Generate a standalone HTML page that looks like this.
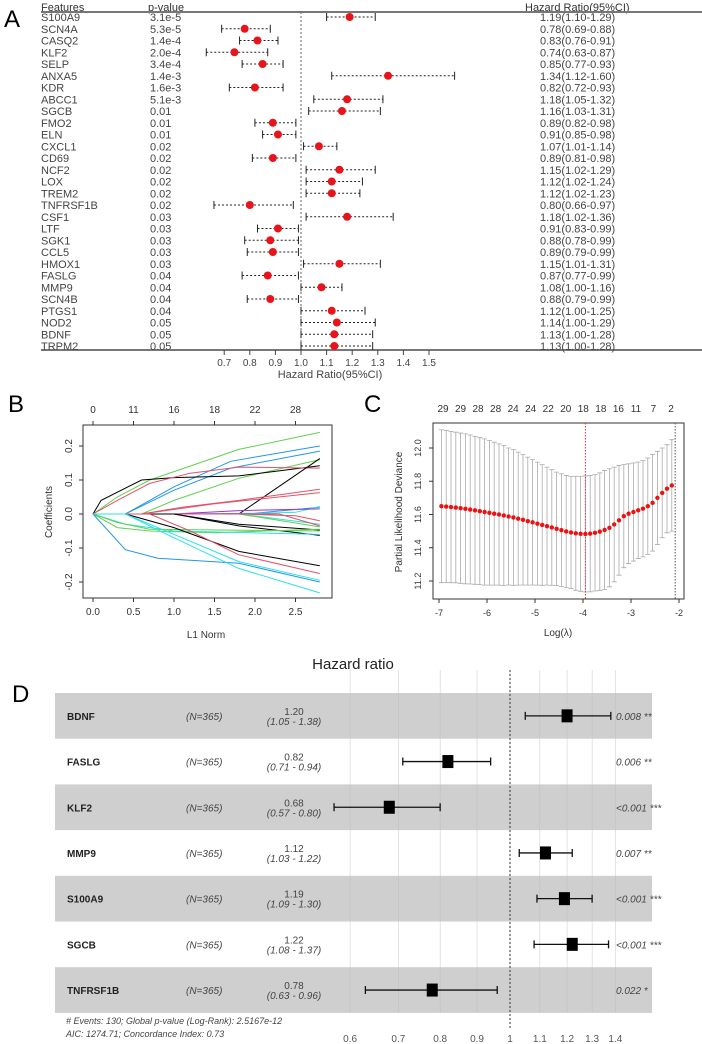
<!DOCTYPE html>
<html><head><meta charset="utf-8">
<style>
html,body{margin:0;padding:0;background:#fff;}
svg{display:block;font-family:"Liberation Sans",Arial,sans-serif;}
</style></head>
<body>
<svg id="fig" width="702" height="1044" viewBox="0 0 702 1044" xmlns="http://www.w3.org/2000/svg">
<g id="pA"></g>
<g id="pB"></g>
<g id="pC"></g>
<g id="pD"></g>
</svg>
<script>
// ---------- Panel A data ----------
const aGenes=["S100A9","SCN4A","CASQ2","KLF2","SELP","ANXA5","KDR","ABCC1","SGCB","FMO2","ELN","CXCL1","CD69","NCF2","LOX","TREM2","TNFRSF1B","CSF1","LTF","SGK1","CCL5","HMOX1","FASLG","MMP9","SCN4B","PTGS1","NOD2","BDNF","TRPM2"];
const aPvals=["3.1e-5","5.3e-5","1.4e-4","2.0e-4","3.4e-4","1.4e-3","1.6e-3","5.1e-3","0.01","0.01","0.01","0.02","0.02","0.02","0.02","0.02","0.02","0.03","0.03","0.03","0.03","0.03","0.04","0.04","0.04","0.04","0.05","0.05","0.05"];
const aHR=[1.19,0.78,0.83,0.74,0.85,1.34,0.82,1.18,1.16,0.89,0.91,1.07,0.89,1.15,1.12,1.12,0.80,1.18,0.91,0.88,0.89,1.15,0.87,1.08,0.88,1.12,1.14,1.13,1.13];
const aLo=[1.10,0.69,0.76,0.63,0.77,1.12,0.72,1.05,1.03,0.82,0.85,1.01,0.81,1.02,1.02,1.02,0.66,1.02,0.83,0.78,0.79,1.01,0.77,1.00,0.79,1.00,1.00,1.00,1.00];
const aHi=[1.29,0.88,0.91,0.87,0.93,1.60,0.93,1.32,1.31,0.98,0.98,1.14,0.98,1.29,1.24,1.23,0.97,1.36,0.99,0.99,0.99,1.31,0.99,1.16,0.99,1.25,1.29,1.28,1.28];
const aTicks=[0.7,0.8,0.9,1.0,1.1,1.2,1.3,1.4,1.5];
// ---------- Panel B data ----------
const bTopLabels=["0","11","16","18","22","28"];
const bXTicks=[0,0.5,1,1.5,2,2.5];
const bYTicks=[-0.2,-0.1,0,0.1,0.2];
const bColors=["#61D04F","#2297E6","#2297E6","#61D04F","#000000","#DF536B","#000000","#DF536B","#DF536B","#2297E6","#28E2E5","#9933CC","#DF536B","#28E2E5","#61D04F","#DF536B","#000000","#000000","#61D04F","#28E2E5","#61D04F","#000000","#DF536B","#2297E6","#28E2E5","#28E2E5"];
const bPathX=[
[0,0.3,0.7,1.8,2.8],[0,0.4,1.0,1.7,2.8],[0,0.4,1.0,1.7,2.8],[0,0.6,1.0,1.8,2.8],[0,0.1,0.6,1.0,1.8,2.8],[0,0.3,0.7,1.2,1.8,2.8],[0,1.8,2.8],[0,0.6,1.1,1.8,2.8],[0,0.6,1.5,2.8],[0,1.0,2.0,2.8],[0,1.8,2.5,2.8],[0,1.0,1.8,2.8],[0,1.8,2.5,2.8],[0,1.8,2.8],[0,1.8,2.8],[0,2.3,2.8],[0,1.0,1.8,2.8],[0,1.0,1.8,2.8],[0,0.3,0.7,1.5,2.8],[0,0.4,1.0,2.8],[0,0.3,0.7,2.8],[0,0.4,1.0,1.8,2.8],[0,0.7,1.2,1.8,2.8],[0,0.4,0.8,1.8,2.8],[0,0.4,1.0,1.8,2.8],[0,0.4,1.0,1.8,2.8]];
const bPathY=[
[0,0.05,0.1,0.19,0.24],[0,0,0.08,0.155,0.2],[0,0,0.07,0.135,0.185],[0,0,0.04,0.105,0.16],[0,0.04,0.1,0.107,0.112,0.142],[0,0.04,0.09,0.12,0.138,0.135],[0,0,0.163],[0,0,0.02,0.04,0.073],[0,0,0.03,0.063],[0,0,0.002,0.02],[0,0,0.005,0.022],[0,0,0.01,0.015],[0,0,-0.005,-0.02],[0,0,-0.03],[0,0,-0.038],[0,0,-0.035],[0,0,-0.035,-0.063],[0,0,-0.03,-0.047],[0,-0.04,-0.05,-0.055,-0.045],[0,-0.03,-0.05,-0.06],[0,-0.025,-0.045,-0.05],[0,0,-0.04,-0.11,-0.152],[0,0,-0.05,-0.12,-0.175],[0,-0.105,-0.13,-0.145,-0.2],[0,0,-0.06,-0.14,-0.195],[0,0,-0.07,-0.16,-0.232]];
// ---------- Panel C data ----------
const cTopLabels=["29","29","28","28","24","24","22","20","18","18","16","11","7","2"];
const cXTicks=[-7,-6,-5,-4,-3,-2];
const cYTicks=[11.2,11.4,11.6,11.8,12.0];
const cLogLambda=[-6.95,-6.85,-6.75,-6.65,-6.55,-6.45,-6.35,-6.25,-6.15,-6.05,-5.95,-5.85,-5.75,-5.65,-5.55,-5.45,-5.35,-5.25,-5.15,-5.05,-4.95,-4.85,-4.75,-4.65,-4.55,-4.45,-4.35,-4.25,-4.15,-4.05,-3.95,-3.85,-3.75,-3.65,-3.55,-3.45,-3.35,-3.25,-3.15,-3.05,-2.95,-2.85,-2.75,-2.65,-2.55,-2.45,-2.35,-2.25,-2.15];
const cMean=[11.65,11.648,11.645,11.642,11.638,11.634,11.63,11.625,11.62,11.615,11.61,11.605,11.60,11.594,11.588,11.582,11.575,11.568,11.56,11.553,11.545,11.537,11.53,11.522,11.514,11.506,11.498,11.492,11.487,11.484,11.483,11.485,11.49,11.497,11.507,11.52,11.54,11.565,11.59,11.605,11.615,11.625,11.635,11.65,11.67,11.70,11.73,11.755,11.775];
const cUpper=[12.11,12.105,12.10,12.095,12.09,12.085,12.078,12.07,12.062,12.055,12.045,12.035,12.025,12.015,12.00,11.99,11.975,11.96,11.945,11.93,11.915,11.90,11.885,11.87,11.855,11.845,11.835,11.83,11.83,11.83,11.832,11.835,11.84,11.85,11.865,11.875,11.885,11.895,11.90,11.905,11.91,11.915,11.925,11.94,11.96,11.98,12.0,12.02,12.05];
const cLambdaMin=-3.95;
const cLambda1se=-2.08;
// ---------- Panel D data ----------
const dGenes=["BDNF","FASLG","KLF2","MMP9","S100A9","SGCB","TNFRSF1B"];
const dHR=[1.20,0.82,0.68,1.12,1.19,1.22,0.78];
const dLo=[1.05,0.71,0.57,1.03,1.09,1.08,0.63];
const dHi=[1.38,0.94,0.80,1.22,1.30,1.37,0.96];
const dP=["0.008 **","0.006 **","<0.001 ***","0.007 **","<0.001 ***","<0.001 ***","0.022 *"];
const dTicks=[0.6,0.7,0.8,0.9,1,1.1,1.2,1.3,1.4];

const NS="http://www.w3.org/2000/svg";
function mk(parent,tag,attrs,text){const e=document.createElementNS(NS,tag);for(const k in attrs)e.setAttribute(k,attrs[k]);if(text!==undefined)e.textContent=text;parent.appendChild(e);return e;}

// ===== Panel A =====
(function(){
const g=document.getElementById('pA');
const xA=v=>301+(v-1)*256;
const rowY=i=>17+i*11.75;
let t=mk(g,'text',{x:4,y:27,'font-size':24,fill:'#000'},'A');


[['Features',41],['p-value',148]].forEach(([s,x])=>{const h=mk(g,'text',{x:x,y:11,'font-size':11,fill:'#333'},s);

});
let hh=mk(g,'text',{x:525,y:11,'font-size':11,fill:'#333'},'Hazard Ratio(95%CI)');


let l1=mk(g,'line',{x1:41,x2:702,y1:12,y2:12,stroke:'#777','stroke-width':2});


let l2=mk(g,'line',{x1:41,x2:702,y1:350,y2:350,stroke:'#777','stroke-width':2});


let rl=mk(g,'line',{x1:xA(1),x2:xA(1),y1:12,y2:350,stroke:'#666','stroke-dasharray':'2,2'});


aGenes.forEach((name,i)=>{
 const y=rowY(i);
 const a=mk(g,'text',{x:41,y:y+4,'font-size':11,fill:'#444'},name);
 
 
 const b=mk(g,'text',{x:150,y:y+4,'font-size':11,fill:'#444'},aPvals[i]);
 
 
 const c=mk(g,'text',{x:540,y:y+4,'font-size':11,fill:'#444'},aHR[i].toFixed(2)+'('+aLo[i].toFixed(2)+'-'+aHi[i].toFixed(2)+')');
 
 
 const ci=mk(g,'line',{x1:xA(aLo[i]),x2:xA(aHi[i]),y1:y,y2:y,stroke:'#222','stroke-dasharray':'2,2'});
 
 
 [aLo[i],aHi[i]].forEach(v=>{const k=mk(g,'line',{x1:xA(v),x2:xA(v),y1:y-4,y2:y+4,stroke:'#222'});
 
 });
 const p=mk(g,'circle',{cx:xA(aHR[i]),cy:y,r:4,fill:'#e8141c'});
 
 
});
aTicks.forEach(v=>{
 const tm=mk(g,'line',{x1:xA(v),x2:xA(v),y1:350,y2:355,stroke:'#444'});
 
 
 const tk=mk(g,'text',{x:xA(v),y:366,'font-size':10,fill:'#444','text-anchor':'middle'},v.toFixed(1));
 
 });
let ti=mk(g,'text',{x:330,y:378,'font-size':11,fill:'#444','text-anchor':'middle'},'Hazard Ratio(95%CI)');


})();

// ===== Panel B =====
(function(){
const g=document.getElementById('pB');
const L=83,R=332,T=425,B=598;
const xB=v=>93+v*81, yB=v=>514-v*340;
let t=mk(g,'text',{x:8,y:412,'font-size':24,fill:'#000'},'B');


let box=mk(g,'rect',{x:L,y:T,width:R-L,height:B-T,fill:'none',stroke:'#333'});


bPathX.forEach((xs,i)=>{
 const d=xs.map((x,j)=>(j?'L':'M')+xB(x).toFixed(1)+','+yB(bPathY[i][j]).toFixed(1)).join(' ');
 const p=mk(g,'path',{d:d,fill:'none',stroke:bColors[i],'stroke-width':1});
 
 
});
bXTicks.forEach((v,i)=>{
 mk(g,'line',{x1:xB(v),x2:xB(v),y1:B,y2:B+4,stroke:'#333'});
 const a=mk(g,'text',{x:xB(v),y:B+17,'font-size':10,fill:'#333','text-anchor':'middle'},v.toFixed(1));
 
 
 mk(g,'line',{x1:xB(v),x2:xB(v),y1:T,y2:T-4,stroke:'#333'});
 const b=mk(g,'text',{x:xB(v),y:413,'font-size':10,fill:'#333','text-anchor':'middle'},bTopLabels[i]);
 
 
});
bYTicks.forEach(v=>{
 mk(g,'line',{x1:L,x2:L-4,y1:yB(v),y2:yB(v),stroke:'#333'});
 const a=mk(g,'text',{x:72,y:yB(v),'font-size':10,fill:'#333','text-anchor':'middle',transform:`rotate(-90 72 ${yB(v)})`},v.toFixed(1));
 
 
});
let xt=mk(g,'text',{x:206,y:638,'font-size':10,fill:'#333','text-anchor':'middle'},'L1 Norm');


let yt=mk(g,'text',{x:52,y:512,'font-size':10,fill:'#333','text-anchor':'middle',transform:'rotate(-90 52 512)'},'Coefficients');


})();

// ===== Panel C =====
(function(){
const g=document.getElementById('pC');
const L=433,R=684,T=423,B=599;
const xC=v=>439+(v+7)*48, yC=v=>581-(v-11.2)*166.25;
let t=mk(g,'text',{x:364,y:412,'font-size':24,fill:'#000'},'C');


let box=mk(g,'rect',{x:L,y:T,width:R-L,height:B-T,fill:'none',stroke:'#333'});


cLogLambda.forEach((x,i)=>{
 const se=cUpper[i]-cMean[i];
 const lo=cMean[i]-se;
 const e=mk(g,'path',{d:`M${xC(x)},${yC(cUpper[i])} L${xC(x)},${yC(lo)} M${xC(x)-2.5},${yC(cUpper[i])} L${xC(x)+2.5},${yC(cUpper[i])} M${xC(x)-2.5},${yC(lo)} L${xC(x)+2.5},${yC(lo)}`,stroke:'#aaa','stroke-width':0.8,fill:'none'});
 
 
});
let v1=mk(g,'line',{x1:xC(cLambdaMin),x2:xC(cLambdaMin),y1:T,y2:B,stroke:'#e33','stroke-dasharray':'1.5,1.5'});


let v2=mk(g,'line',{x1:xC(cLambda1se),x2:xC(cLambda1se),y1:T,y2:B,stroke:'#555','stroke-dasharray':'1.5,1.5'});


cLogLambda.forEach((x,i)=>{
 const d=mk(g,'circle',{cx:xC(x),cy:yC(cMean[i]),r:2.2,fill:'#ee1111'});
 
 
});
cXTicks.forEach(v=>{
 mk(g,'line',{x1:xC(v),x2:xC(v),y1:B,y2:B+4,stroke:'#333'});
 const a=mk(g,'text',{x:xC(v),y:B+17,'font-size':9,fill:'#333','text-anchor':'middle'},v);
 
 
});
cTopLabels.forEach((s,i)=>{
 const x=443+i*(671-443)/13;
 const a=mk(g,'text',{x:x,y:412,'font-size':10,fill:'#333','text-anchor':'middle'},s);
 
 
});
cYTicks.forEach(v=>{
 mk(g,'line',{x1:L,x2:L-4,y1:yC(v),y2:yC(v),stroke:'#333'});
 const a=mk(g,'text',{x:421,y:yC(v),'font-size':9,fill:'#333','text-anchor':'middle',transform:`rotate(-90 421 ${yC(v)})`},v.toFixed(1));
 
 
});
let xt=mk(g,'text',{x:558,y:636,'font-size':10,fill:'#333','text-anchor':'middle'},'Log(λ)');


let yt=mk(g,'text',{x:402,y:512,'font-size':10,fill:'#333','text-anchor':'middle',transform:'rotate(-90 402 512)'},'Partial Likelihood Deviance');


})();

// ===== Panel D =====
(function(){
const g=document.getElementById('pD');
const xD=v=>510+Math.log(v)*313;
const top=693,rh=45.7;
let ti=mk(g,'text',{x:353,y:669,'font-size':15,fill:'#222','text-anchor':'middle'},'Hazard ratio');


let t=mk(g,'text',{x:12,y:702,'font-size':24,fill:'#000'},'D');


dGenes.forEach((n,i)=>{ if(i%2===0){const r=mk(g,'rect',{x:55,y:top+i*rh,width:597,height:rh,fill:'#cfcfcf'});
 
 }});
dTicks.forEach(v=>{const l=mk(g,'line',{x1:xD(v),x2:xD(v),y1:670,y2:1013,stroke:'#bbb','stroke-width':0.5,opacity:0.8});
 
 
 const a=mk(g,'text',{x:xD(v),y:1042,'font-size':10,fill:'#555','text-anchor':'middle'},String(v));
 
 });
let rl=mk(g,'line',{x1:xD(1),x2:xD(1),y1:670,y2:1030,stroke:'#333','stroke-dasharray':'2,2'});


dGenes.forEach((n,i)=>{
 const y=top+i*rh+rh/2;
 const a=mk(g,'text',{x:67,y:y+4,'font-size':10,'font-weight':'bold',fill:'#222'},n);
 
 
 const b=mk(g,'text',{x:186,y:y+4,'font-size':10,'font-style':'italic',fill:'#444'},'(N=365)');
 
 
 const c=mk(g,'text',{x:294,y:y-1,'font-size':10,fill:'#444','text-anchor':'middle'},dHR[i].toFixed(2));
 
 
 const c2=mk(g,'text',{x:294,y:y+9,'font-size':10,'font-style':'italic',fill:'#444','text-anchor':'middle'},'('+dLo[i].toFixed(2)+' - '+dHi[i].toFixed(2)+')');
 
 
 const p=mk(g,'text',{x:616,y:y+4,'font-size':10,'font-style':'italic',fill:'#444'},dP[i]);
 
 
 const e=mk(g,'path',{d:`M${xD(dLo[i])},${y} L${xD(dHi[i])},${y} M${xD(dLo[i])},${y-4} L${xD(dLo[i])},${y+4} M${xD(dHi[i])},${y-4} L${xD(dHi[i])},${y+4}`,stroke:'#111','stroke-width':1.3,fill:'none'});
 
 
 const s=mk(g,'rect',{x:xD(dHR[i])-5.5,y:y-6.5,width:11,height:13,fill:'#000'});
 
 
});
let f1=mk(g,'text',{x:66,y:1024,'font-size':9,'font-style':'italic',fill:'#444'},'# Events: 130; Global p-value (Log-Rank): 2.5167e-12');


let f2=mk(g,'text',{x:66,y:1037,'font-size':9,'font-style':'italic',fill:'#444'},'AIC: 1274.71; Concordance Index: 0.73');


})();
</script>
</body></html>
